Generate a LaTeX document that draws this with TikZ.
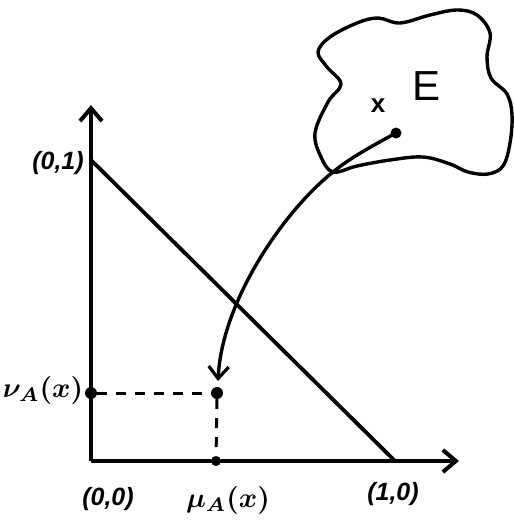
\documentclass[tikz,border=0pt]{standalone}
\usepackage{fontspec}
\usepackage{graphicx}
\usepackage{bm}
\setmainfont{Liberation Sans}
\usetikzlibrary{arrows.meta,calc}
\begin{document}
\begin{tikzpicture}[x=1pt,y=-1pt,
  thickline/.style={line width=4.4pt},
  axisarrow/.style={thickline,-{Straight Barb[length=13pt,width=22pt,line width=4pt]}},
  dotmark/.style={circle,fill=black,inner sep=0pt,minimum size=12pt},
  lbl/.style={font=\fontsize{25}{25}\selectfont\bfseries\itshape},
  dashline/.style={line width=3pt,dash pattern=on 10pt off 9pt}]
\useasboundingbox (0,0) rectangle (514,520);
% axes
\coordinate (O) at (91,461);
\coordinate (ytip) at (91,105);
\coordinate (xtip) at (459,461);
\coordinate (Y1) at (91,160);
\coordinate (X1) at (395,461);
\draw[axisarrow] (O) -- (ytip);
\draw[axisarrow] (O) -- (xtip);
\draw[line width=3.8pt] (Y1) -- (X1);
% point and projections
\node[dotmark] (P) at (217,393) {};
\node[dotmark] (Py) at (91,393) {};
\node[dotmark,minimum size=10pt] (Px) at (216,461) {};
\draw[dashline] (Py) -- (P);
\draw[dashline] (P) -- (Px);
% labels
\node[lbl] (l01) at (58,163) {(0,1)};
\node[lbl] (l00) at (108,499) {(0,0)};
\node[lbl] (l10) at (393,494) {(1,0)};
\node (lnu) at (43,390) {\scalebox{2.8}{$\bm{\nu_{A}(x)}$}};
\node (lmu) at (228,500) {\scalebox{2.8}{$\bm{\mu_{A}(x)}$}};
% set E
\draw[line width=3.4pt] plot[smooth cycle, tension=0.6] coordinates {
  (333,172) (321,157) (315,133) (328,102) (341,84) (327,67) (318,52) (330,37)
  (357,23) (378,18) (400,23) (430,15) (457,10) (477,15) (490,33) (487,57)
  (491,78) (507,94) (512,115) (510,143) (503,166) (488,174) (468,172)
  (450,164) (423,157) (390,160) (357,166)};
\node[font=\fontsize{42}{42}\selectfont] (E) at (427,86) {E};
\node[font=\fontsize{26}{26}\selectfont\bfseries] (xm) at (378,106) {x};
\node[dotmark,minimum size=11pt] (S) at (396,133) {};
\coordinate (J) at (333,172);
\coordinate (Ptip) at (218,381);
\draw[line width=3.4pt,-{Straight Barb[length=12pt,width=20pt,line width=3.2pt]}]
  (S.center) .. controls (372,146) and (350,158) .. (J)
  .. controls (285,210) and (222,300) .. (Ptip);
\end{tikzpicture}
\end{document}
